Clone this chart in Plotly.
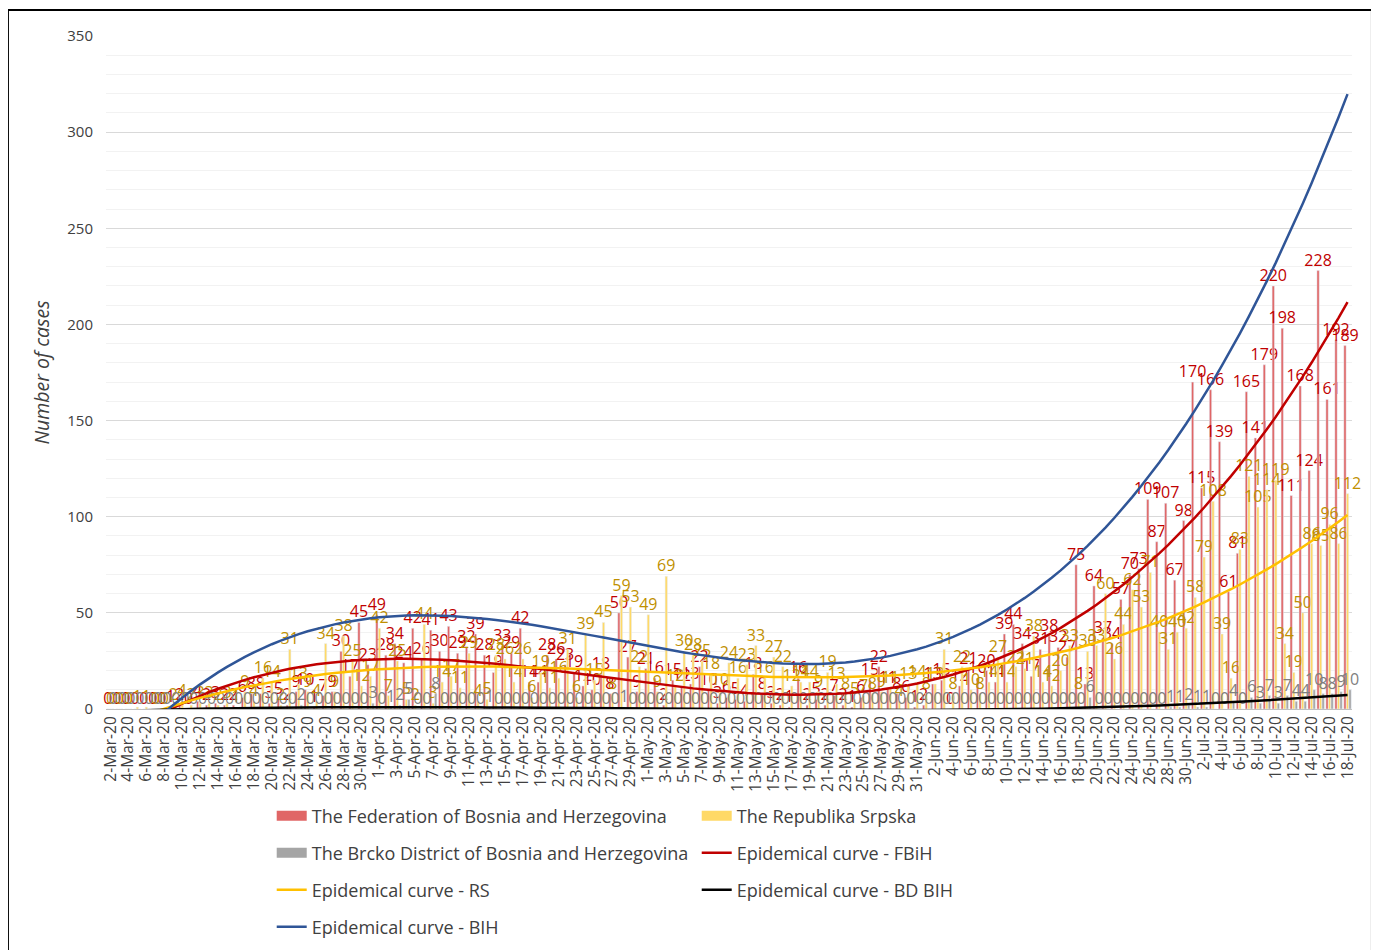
import numpy as np
import pandas as pd
import plotly.graph_objects as go

dates = [d.strftime("%-d-%b-%y") for d in pd.date_range("2020-03-02", "2020-07-18")]

fbih = [0, 0, 0, 0, 0, 0, 0, 1, 2, 0,
        4, 2, 3, 2, 2, 6, 8, 8, 3, 5,
        2, 9, 10, 1, 7, 9, 30, 17, 45, 23,
        49, 28, 34, 24, 42, 26, 41, 30, 43, 29,
        32, 39, 28, 19, 33, 29, 42, 14, 14, 28,
        26, 23, 19, 12, 10, 18, 8, 50, 27, 9,
        21, 16, 2, 15, 12, 13, 22, 10, 3, 6,
        5, 4, 18, 8, 3, 2, 1, 16, 2, 5,
        2, 7, 2, 1, 6, 15, 22, 11, 8, 6,
        1, 2, 13, 15, 0, 12, 21, 16, 20, 14,
        39, 44, 34, 17, 31, 38, 32, 27, 75, 13,
        64, 37, 34, 57, 70, 73, 109, 87, 107, 67,
        98, 170, 115, 166, 139, 61, 81, 165, 141, 179,
        220, 198, 111, 168, 124, 228, 161, 192, 189]

rs = [0, 0, 0, 1, 1, 0, 0, 2, 4, 2,
      3, 3, 2, 3, 1, 9, 4, 16, 14, 2,
      31, 13, 9, 4, 34, 9, 38, 25, 12, 17,
      42, 7, 25, 5, 2, 44, 3, 14, 17, 11,
      29, 4, 5, 28, 26, 14, 26, 6, 19, 11,
      16, 31, 6, 39, 15, 45, 8, 59, 53, 22,
      49, 9, 69, 12, 30, 28, 25, 18, 10, 24,
      16, 23, 33, 16, 27, 22, 12, 14, 14, 9,
      19, 13, 8, 5, 7, 8, 9, 11, 4, 13,
      14, 8, 13, 31, 8, 22, 10, 8, 14, 27,
      14, 22, 21, 38, 14, 12, 20, 33, 8, 30,
      33, 60, 26, 44, 62, 53, 71, 40, 31, 40,
      42, 58, 79, 108, 39, 16, 83, 121, 105, 114,
      119, 34, 19, 50, 86, 85, 96, 86, 112]

bd = [0, 0, 0, 0, 0, 0, 0, 0, 0, 0,
      0, 0, 0, 0, 0, 0, 0, 0, 0, 0,
      0, 2, 0, 0, 0, 0, 0, 0, 0, 3,
      0, 1, 2, 5, 0, 0, 8, 0, 0, 0,
      0, 0, 1, 0, 0, 0, 0, 0, 0, 0,
      0, 0, 0, 0, 0, 0, 0, 1, 0, 0,
      0, 0, 0, 0, 0, 0, 0, 0, 0, 0,
      0, 0, 0, 0, 0, 0, 0, 0, 0, 0,
      0, 0, 0, 0, 0, 0, 0, 0, 0, 0,
      0, 0, 0, 0, 0, 0, 0, 0, 0, 0,
      0, 0, 0, 0, 0, 0, 0, 0, 0, 6,
      0, 0, 0, 0, 0, 0, 0, 0, 1, 1,
      2, 1, 1, 0, 0, 4, 0, 6, 3, 7,
      3, 7, 4, 4, 10, 8, 8, 9, 10]

tick_labels = dates[::2]

# Excel-style polynomial (order 3) trendlines computed from the data
t = np.arange(1, len(dates) + 1)
total = np.array(fbih) + np.array(rs) + np.array(bd)
def trend(vals):
    return np.polyval(np.polyfit(t, np.array(vals, dtype=float), 3), t)

FONT = "Open Sans"
fig = go.Figure()

bar_specs = [
    ("The Federation of Bosnia and Herzegovina", fbih, "#E06666", "#C00000", "legend"),
    ("The Republika Srpska", rs, "#FFD966", "#BF9000", "legend"),
    ("The Brcko District of Bosnia and Herzegovina", bd, "#A5A5A5", "#7F7F7F", "legend2"),
]
for name, vals, col, tcol, lg in bar_specs:
    fig.add_trace(go.Bar(
        x=dates, y=vals, name=name, marker_color=col, showlegend=False,
        legendgroup=name,
        text=vals, textposition="outside", textangle=0,
        constraintext="none", cliponaxis=False,
        textfont=dict(family=FONT, size=16, color=tcol),
    ))

line_specs = [
    ("Epidemical curve - FBiH", trend(fbih), "#C00000", "legend2"),
    ("Epidemical curve - RS", trend(rs), "#FFC000", "legend3"),
    ("Epidemical curve - BD BIH", trend(bd), "#000000", "legend3"),
    ("Epidemical curve - BIH", trend(total), "#2F5597", "legend4"),
]

# legend entries (rectangular swatches for the bar series, lines for the curves)
legend_rows = [
    ("The Federation of Bosnia and Herzegovina", "#E06666", 10, "legend"),
    ("The Republika Srpska", "#FFD966", 10, "legend"),
    ("The Brcko District of Bosnia and Herzegovina", "#A5A5A5", 10, "legend2"),
]
for name, col, w, lg in legend_rows:
    fig.add_trace(go.Scatter(x=[None], y=[None], name=name, mode="lines", legend=lg,
                             legendgroup=name, line=dict(color=col, width=w)))

for name, vals, col, lg in line_specs:
    fig.add_trace(go.Scatter(x=dates, y=vals, name=name, mode="lines", legend=lg,
                             line=dict(color=col, width=2.5)))

def leg(y):
    return dict(orientation="h", x=0.133, y=y, xanchor="left", yanchor="middle",
                entrywidth=380, entrywidthmode="pixels", bgcolor="rgba(0,0,0,0)",
                font=dict(family=FONT, size=18, color="#404040"), traceorder="normal")

fig.update_layout(
    width=1371, height=942,
    paper_bgcolor="white", plot_bgcolor="white",
    margin=dict(l=98, r=27, t=28, b=241, autoexpand=False),
    barmode="group", bargap=0.15, bargroupgap=0.1,
    font=dict(family=FONT, color="#404040"),
    showlegend=True,
    legend=leg(-0.159), legend2=leg(-0.214), legend3=leg(-0.269), legend4=leg(-0.324),
    xaxis=dict(type="category", tickmode="array", tickvals=tick_labels, ticktext=tick_labels,
               tickangle=-90, tickfont=dict(family=FONT, size=15.5, color="#404040"),
               showgrid=False, showline=True, linecolor="#BFBFBF", ticks="",
               range=[-0.5, len(dates) - 0.5]),
    yaxis=dict(range=[0, 350], dtick=50, showgrid=True, gridcolor="#D9D9D9",
               tickfont=dict(family=FONT, size=15, color="#404040"),
               ticklabelstandoff=12, zeroline=False,
               minor=dict(dtick=10, showgrid=True, gridcolor="#F2F2F2"),
               title=dict(text="<i>Number of cases</i>", font=dict(family=FONT, size=19.5, color="#404040"),
                          standoff=12)),
    shapes=[dict(type="rect", xref="paper", yref="paper",
                 x0=-0.0787, x1=1.016, y0=-0.37, y1=1.0386,
                 line=dict(color="black", width=2), fillcolor="rgba(0,0,0,0)", layer="below")],
)

fig.write_html("out.html")
